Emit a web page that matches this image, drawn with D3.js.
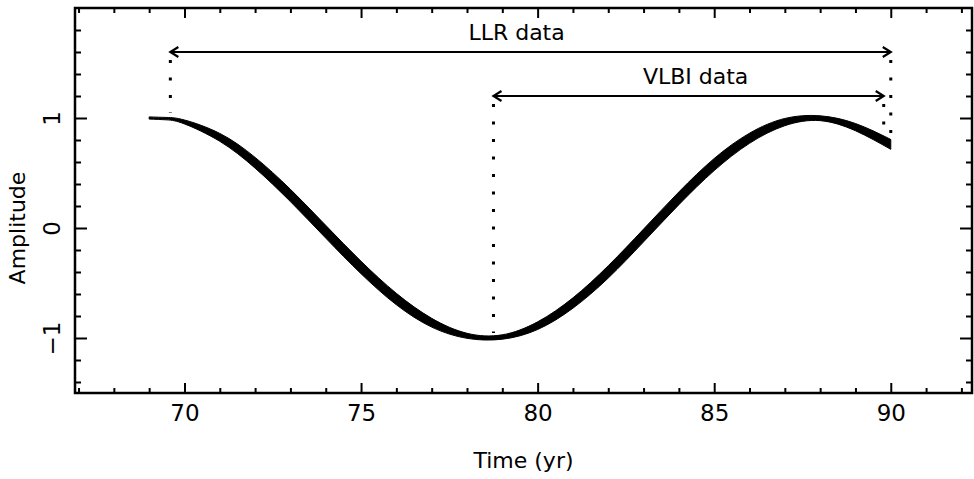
<!DOCTYPE html>
<html>
<head>
    <meta charset="utf-8">
    <title>amplitude-time</title>
    <script type="text/javascript" src="https://cdn.jsdelivr.net/npm/d3@7"></script>
    <style type="text/css">
        body { margin: 0; background: #fff; }
        svg text { font-family: "DejaVu Sans", sans-serif; fill: #000; }
        .axis path { display: none; }
        .axis line { stroke: #000; stroke-width: 2px; }
    </style>
</head>
<body>
<div id="app"></div>

<script type="text/javascript">
    // years sampled along the curve, upper and lower edge of the band
    var years = [69, 69.5, 70, 71, 72, 73, 74, 75, 76, 77, 78, 79, 80, 81, 82, 83, 84, 85, 86, 87, 88, 89, 90];
    var ampUpper = [1.010, 1.005, 0.982, 0.860, 0.642, 0.352, 0.024, -0.302, -0.594, -0.821, -0.957, -0.971, -0.853, -0.635, -0.343, -0.010, 0.328, 0.632, 0.862, 0.996, 1.020, 0.950, 0.805];
    var ampLower = [0.990, 0.983, 0.946, 0.788, 0.544, 0.240, -0.092, -0.416, -0.698, -0.901, -1.003, -1.011, -0.923, -0.729, -0.455, -0.126, 0.212, 0.522, 0.770, 0.930, 0.976, 0.884, 0.715];

    // data spans shown as arrows
    var spanLabels = ["LLR data", "VLBI data"];
    var spanStart = [69.6, 78.75];
    var spanEnd = [90.0, 89.8];
    var spanLevel = [1.6, 1.2];
    var spanEndAmp = [[1.0, 0.77], [-1.0, 0.84]];

    var xMajor = [70, 75, 80, 85, 90];
    var yMajor = [-1, 0, 1];

    !function () {
        var w = 974, h = 479;
        var left = 75, right = 972, top = 8, bottom = 393;

        var svg = d3.select('#app').append('svg').attr('width', w).attr('height', h);

        var x = d3.scaleLinear().domain([66.9, 92.3]).range([left, right]);
        var y = d3.scaleLinear().domain([-1.5, 2]).range([bottom, top]);

        var xMinor = d3.range(67, 93, 1).filter(function (d) { return xMajor.indexOf(d) < 0; });
        var yMinor = d3.range(-14, 20, 2).map(function (d) { return d / 10; })
            .filter(function (d) { return yMajor.indexOf(d) < 0; });

        ///坐标轴 (ticks point inward on all four sides)
        svg.append('g').attr('class', 'axis').attr('transform', 'translate(0,' + bottom + ')')
            .call(d3.axisBottom(x).tickValues(xMajor).tickSize(-10).tickPadding(12).tickFormat(d3.format('d')))
            .selectAll('text').style('font-size', '23px');
        svg.append('g').attr('class', 'axis').attr('transform', 'translate(0,' + bottom + ')')
            .call(d3.axisBottom(x).tickValues(xMinor).tickSize(-5).tickFormat(''));
        svg.append('g').attr('class', 'axis').attr('transform', 'translate(0,' + top + ')')
            .call(d3.axisTop(x).tickValues(xMajor).tickSize(-10).tickFormat(''));
        svg.append('g').attr('class', 'axis').attr('transform', 'translate(0,' + top + ')')
            .call(d3.axisTop(x).tickValues(xMinor).tickSize(-5).tickFormat(''));

        svg.append('g').attr('class', 'axis').attr('transform', 'translate(' + left + ',0)')
            .call(d3.axisLeft(y).tickValues(yMajor).tickSize(-12).tickFormat(d3.format('d')))
            .selectAll('text')
            .attr('x', 0).attr('dy', null)
            .attr('text-anchor', 'middle')
            .attr('transform', 'translate(-15,0) rotate(-90)')
            .style('font-size', '23px');
        svg.append('g').attr('class', 'axis').attr('transform', 'translate(' + left + ',0)')
            .call(d3.axisLeft(y).tickValues(yMinor).tickSize(-6).tickFormat(''));
        svg.append('g').attr('class', 'axis').attr('transform', 'translate(' + right + ',0)')
            .call(d3.axisRight(y).tickValues(yMajor).tickSize(-12).tickFormat(''));
        svg.append('g').attr('class', 'axis').attr('transform', 'translate(' + right + ',0)')
            .call(d3.axisRight(y).tickValues(yMinor).tickSize(-6).tickFormat(''));

        ///边框
        svg.append('rect')
            .attr('x', left).attr('y', top)
            .attr('width', right - left).attr('height', bottom - top)
            .attr('fill', 'none').attr('stroke', '#000').attr('stroke-width', 2.5);

        ///轴标题
        svg.append('text').text('Time (yr)')
            .attr('x', (left + right) / 2).attr('y', 468)
            .attr('text-anchor', 'middle').style('font-size', '22px');
        svg.append('text').text('Amplitude')
            .attr('transform', 'translate(25,' + y(0) + ') rotate(-90)')
            .attr('text-anchor', 'middle').style('font-size', '22px');

        ///曲线带
        var band = years.map(function (d, i) { return {t: d, hi: ampUpper[i], lo: ampLower[i]}; });
        svg.append('path').datum(band)
            .attr('d', d3.area()
                .x(function (d) { return x(d.t); })
                .y0(function (d) { return y(d.lo); })
                .y1(function (d) { return y(d.hi); })
                .curve(d3.curveNatural))
            .attr('fill', '#000').attr('stroke', '#000').attr('stroke-width', 1);

        ///箭头
        var defs = svg.append('defs');
        ['start', 'end'].forEach(function (k) {
            defs.append('marker')
                .attr('id', 'arr-' + k)
                .attr('markerUnits', 'userSpaceOnUse')
                .attr('viewBox', '-10 -6 12 12')
                .attr('refX', 0).attr('refY', 0)
                .attr('markerWidth', 12).attr('markerHeight', 12)
                .attr('orient', k === 'end' ? 'auto' : 'auto-start-reverse')
                .append('path')
                .attr('d', 'M-8,-5 L0,0 L-8,5')
                .attr('fill', 'none').attr('stroke', '#000').attr('stroke-width', 2.2);
        });

        spanLabels.forEach(function (lab, i) {
            svg.append('line')
                .attr('x1', x(spanStart[i])).attr('x2', x(spanEnd[i]))
                .attr('y1', y(spanLevel[i])).attr('y2', y(spanLevel[i]))
                .attr('stroke', '#000').attr('stroke-width', 2.2)
                .attr('marker-start', 'url(#arr-start)')
                .attr('marker-end', 'url(#arr-end)');

            // dotted drop lines to the curve
            [spanStart[i], spanEnd[i]].forEach(function (t, j) {
                svg.append('line')
                    .attr('x1', x(t)).attr('x2', x(t))
                    .attr('y1', y(spanLevel[i]) + 8).attr('y2', y(spanEndAmp[i][j]) - 5)
                    .attr('stroke', '#000').attr('stroke-width', 3)
                    .attr('stroke-dasharray', '3,14.5');
            });

            svg.append('text').text(lab)
                .attr('x', (x(spanStart[i]) + x(spanEnd[i])) / 2 + (i === 0 ? -14 : 7))
                .attr('y', y(spanLevel[i]) - 12)
                .attr('text-anchor', 'middle').style('font-size', '22px');
        });
    }();
</script>
</body>
</html>
